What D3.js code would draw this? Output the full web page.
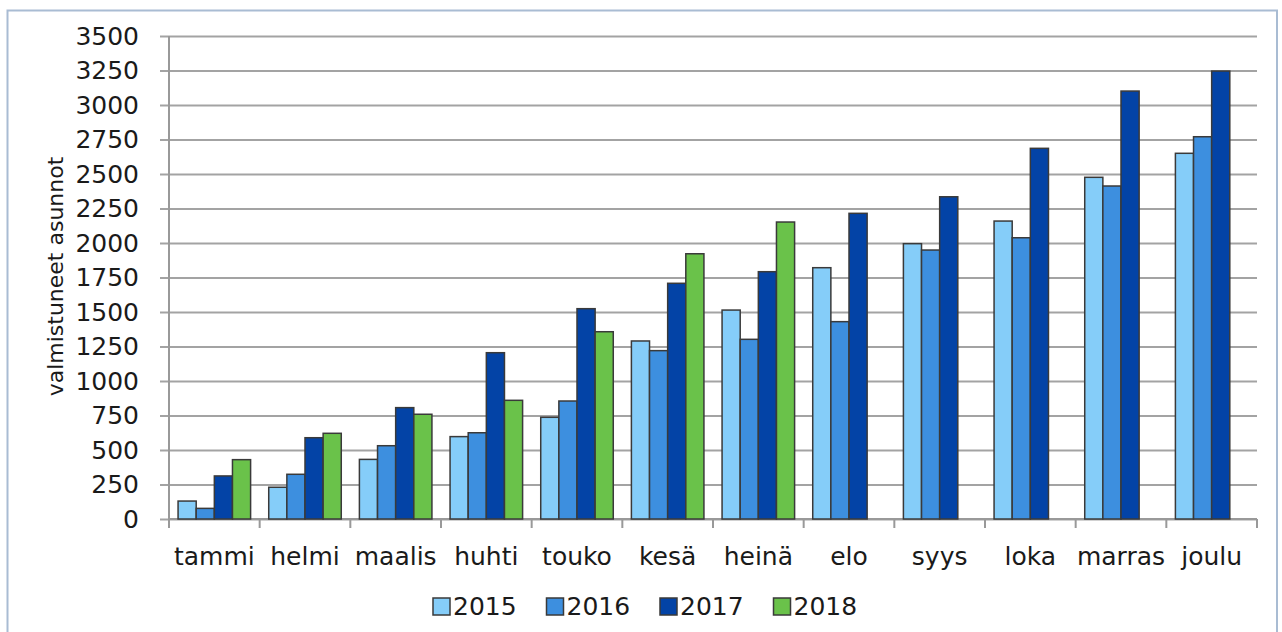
<!DOCTYPE html>
<meta charset="utf-8">
<script src="https://d3js.org/d3.v7.min.js"></script>
<style>
  body { margin: 0; background: #fff; }
  text { font-family: "DejaVu Sans", sans-serif; fill: #1a1a1a; }
</style>
<div id="chart"></div>
<script>

// data
var months = ["tammi", "helmi", "maalis", "huhti", "touko", "kesä", "heinä", "elo", "syys", "loka", "marras", "joulu"];
var years = ["2015", "2016", "2017", "2018"];
var v2015 = [130, 230, 432, 597, 737, 1290, 1514, 1821, 1995, 2159, 2476, 2650];
var v2016 = [77, 324, 531, 625, 855, 1220, 1302, 1430, 1949, 2038, 2413, 2770];
var v2017 = [312, 589, 807, 1205, 1524, 1708, 1792, 2215, 2335, 2686, 3101, 3246];
var v2018 = [430, 621, 759, 860, 1357, 1922, 2152, null, null, null, null, null];
var yTicks = [0, 250, 500, 750, 1000, 1250, 1500, 1750, 2000, 2250, 2500, 2750, 3000, 3250, 3500];
var colors = ["#85cdf9", "#3d8fdf", "#0343a6", "#6ac24a"];
var yLabel = "valmistuneet asunnot";

var series = [v2015, v2016, v2017, v2018];

//margin
var margin = {top: 36, right: 25, bottom: 113, left: 169},
    width = 1282 - margin.left - margin.right,
    height = 632 - margin.top - margin.bottom;

var root = d3.select("#chart")
  .append("svg")
    .attr("width", 1282)
    .attr("height", 632);

// frame
root.append("rect")
  .attr("x", 7.5).attr("y", 10.5)
  .attr("width", 1269.5).attr("height", 640)
  .attr("fill", "none")
  .attr("stroke", "#a9bcd3")
  .attr("stroke-width", 2);

var svg = root.append("g")
  .attr("transform", "translate(" + margin.left + "," + margin.top + ")");

// scales
var x0 = d3.scaleBand().domain(months).range([0, width]);
var bw = x0.bandwidth();
var x1 = d3.scaleBand().domain(years).range([bw * 0.1, bw * 0.9]);
var y = d3.scaleLinear().domain([0, 3500]).range([height, 0]);

// y axis + grid
var yAxis = svg.append("g")
  .attr("transform", "translate(-9,0)")
  .call(d3.axisLeft(y).tickValues(yTicks).tickFormat(d3.format("d"))
    .tickSize(-(width + 9)).tickPadding(21));
yAxis.select(".domain").remove();
yAxis.selectAll("line").attr("stroke", "#a3a3a3").attr("stroke-width", 2);
yAxis.selectAll("text")
  .style("font-size", "25px")
  .attr("fill", "#1a1a1a");

// vertical axis line
svg.append("line")
  .attr("x1", 0).attr("x2", 0)
  .attr("y1", 0).attr("y2", height + 9)
  .attr("stroke", "#999").attr("stroke-width", 2);

// x axis
svg.append("line")
  .attr("x1", 0).attr("x2", width)
  .attr("y1", height).attr("y2", height)
  .attr("stroke", "#999").attr("stroke-width", 2);

var bounds = months.map(function(m) { return x0(m); }).concat([width]);
svg.selectAll(".xtick")
  .data(bounds)
  .enter().append("line")
    .attr("class", "xtick")
    .attr("x1", function(d) { return d; })
    .attr("x2", function(d) { return d; })
    .attr("y1", height).attr("y2", height + 9)
    .attr("stroke", "#999").attr("stroke-width", 2);

svg.selectAll(".xlabel")
  .data(months)
  .enter().append("text")
    .attr("class", "xlabel")
    .attr("x", function(d) { return x0(d) + bw / 2; })
    .attr("y", height + 46)
    .attr("text-anchor", "middle")
    .style("font-size", "25px")
    .text(function(d) { return d; });

// bars
var groups = svg.selectAll(".month")
  .data(months)
  .enter().append("g")
    .attr("class", "month")
    .attr("transform", function(d) { return "translate(" + x0(d) + ",0)"; });

groups.selectAll("rect")
  .data(function(m, i) {
    return years.map(function(yr, k) { return {year: yr, k: k, value: series[k][i]}; })
      .filter(function(d) { return d.value != null; });
  })
  .enter().append("rect")
    .attr("x", function(d) { return x1(d.year); })
    .attr("y", function(d) { return y(d.value); })
    .attr("width", x1.bandwidth())
    .attr("height", function(d) { return height - y(d.value); })
    .attr("fill", function(d) { return colors[d.k]; })
    .attr("stroke", "#3a3a3a")
    .attr("stroke-width", 1.5);

// y label
root.append("text")
  .attr("transform", "translate(63," + (margin.top + height / 2 - 1) + ") rotate(-90)")
  .attr("text-anchor", "middle")
  .style("font-size", "22px")
  .text(yLabel);

// legend
var legend = root.append("g")
  .attr("transform", "translate(433,598)");
var item = legend.selectAll(".leg")
  .data(years)
  .enter().append("g")
    .attr("class", "leg")
    .attr("transform", function(d, i) { return "translate(" + (i * 113.5) + ",0)"; });
item.append("rect")
  .attr("width", 17).attr("height", 17)
  .attr("fill", function(d, i) { return colors[i]; })
  .attr("stroke", "#3a3a3a")
  .attr("stroke-width", 1.5);
item.append("text")
  .attr("x", 20)
  .attr("y", 17)
  .style("font-size", "25px")
  .text(function(d) { return d; });

</script>
